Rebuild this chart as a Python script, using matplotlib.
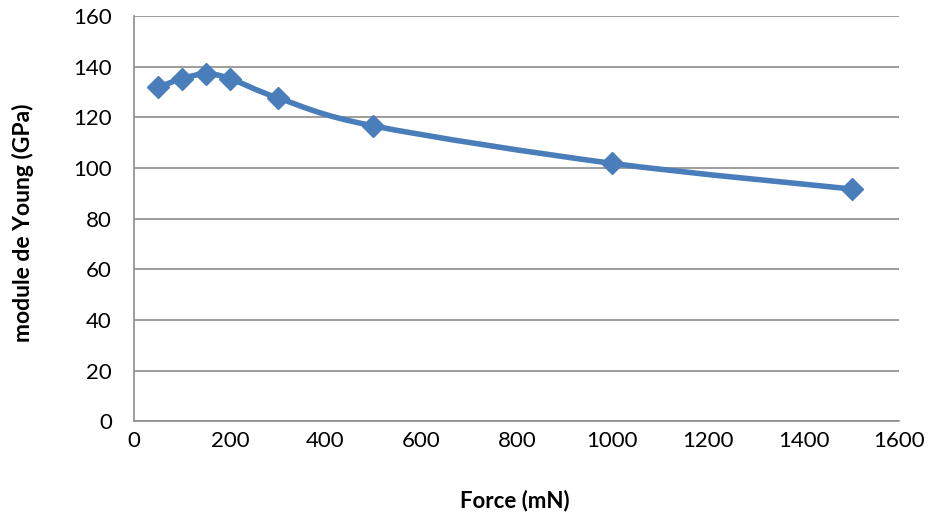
import matplotlib.pyplot as plt
from matplotlib.path import Path
from matplotlib.patches import PathPatch

force = [50, 100, 150, 200, 300, 500, 1000, 1500]
young = [131.8, 135.3, 137.1, 135.3, 127.7, 116.6, 101.8, 91.7]

plt.rcParams['font.family'] = ['Lato', 'DejaVu Sans']

fig = plt.figure(figsize=(9.32, 5.15), dpi=100)
ax = fig.add_axes([0.144, 0.182, 0.821, 0.787])

blue = '#4a7ebb'

# smooth line like Excel (Catmull-Rom as cubic Bezier segments)
verts = [(force[0], young[0])]
codes = [Path.MOVETO]
n = len(force)
t = 1.0 / 6
for i in range(n - 1):
    x0, y0 = force[max(i - 1, 0)], young[max(i - 1, 0)]
    x1, y1 = force[i], young[i]
    x2, y2 = force[i + 1], young[i + 1]
    x3, y3 = force[min(i + 2, n - 1)], young[min(i + 2, n - 1)]
    verts += [(x1 + (x2 - x0) * t, y1 + (y2 - y0) * t),
              (x2 - (x3 - x1) * t, y2 - (y3 - y1) * t),
              (x2, y2)]
    codes += [Path.CURVE4] * 3
ax.add_patch(PathPatch(Path(verts, codes), facecolor='none', edgecolor=blue,
                       lw=4, capstyle='round', joinstyle='round', zorder=3))
ax.plot(force, young, linestyle='none', marker='D', markersize=11.5,
        color=blue, zorder=4)

ax.set_xlim(0, 1600)
ax.set_ylim(0, 160)
ax.set_xticks(range(0, 1601, 200))
ax.set_yticks(range(0, 161, 20))
ax.grid(axis='y', color='#8c8c8c', lw=1.2)
ax.set_axisbelow(True)
for s in ['top', 'right']:
    ax.spines[s].set_visible(False)
for s in ['left', 'bottom']:
    ax.spines[s].set_color('#8c8c8c')
    ax.spines[s].set_linewidth(1.2)
ax.tick_params(length=0, labelsize=16, colors='black')
ax.tick_params(axis='x', pad=7)
ax.tick_params(axis='y', pad=16)

ax.set_xlabel('Force (mN)', fontsize=16, fontweight='bold', va='center')
ax.set_ylabel('module de Young (GPa)', fontsize=16.5, fontweight='bold', va='center')
ax.xaxis.set_label_coords(0.498, -0.195)
ax.yaxis.set_label_coords(-0.146, 0.49)

plt.savefig('out.png', dpi=100)
